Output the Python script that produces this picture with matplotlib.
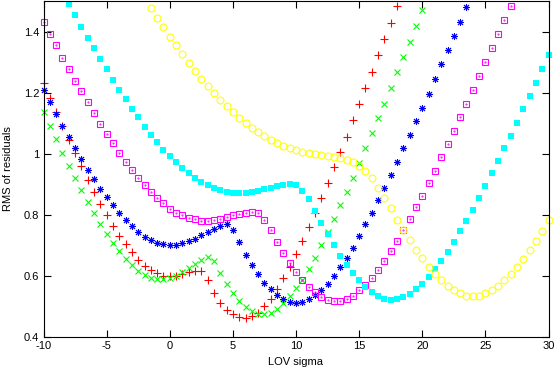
import numpy as np
import matplotlib
matplotlib.use("Agg")
import matplotlib.pyplot as plt

plt.rcParams['font.family'] = ['Liberation Sans', 'DejaVu Sans']

step = 0.5
red_x0, red_x1 = -10, 18
red_y = [1.231,1.184,1.135,1.09,1.045,1.001,0.959,0.914,0.875,0.836,0.800,0.765,0.731,0.703,0.677,0.653,0.633,0.619,0.608,0.601,
         0.599,0.601,0.606,0.613,0.617,0.616,0.587,0.545,0.512,0.490,0.474,0.466,0.462,0.469,0.480,0.501,0.526,0.557,0.592,0.629,
         0.671,0.714,0.760,0.806,0.856,0.904,0.955,1.006,1.056,1.109,1.162,1.215,1.268,1.322,1.375,1.429,1.484]

green_x0, green_x1 = -10, 20
green_y = [1.135,1.092,1.048,1.003,0.961,0.922,0.881,0.841,0.806,0.771,0.738,0.708,0.681,0.654,0.635,0.616,0.602,0.593,0.589,0.589,
           0.593,0.599,0.613,0.625,0.640,0.651,0.661,0.650,0.609,0.575,0.543,0.517,0.498,0.485,0.476,0.474,0.480,0.493,0.512,0.534,
           0.559,0.588,0.623,0.660,0.700,0.744,0.786,0.831,0.876,0.922,0.970,1.018,1.067,1.116,1.164,1.215,1.266,1.317,1.367,1.418,1.470]

blue_x0, blue_x1 = -10, 23.5
blue_y = [1.208,1.168,1.130,1.092,1.054,1.019,0.983,0.948,0.916,0.886,0.858,0.833,0.806,0.782,0.762,0.744,0.727,0.716,0.709,0.703,
          0.700,0.702,0.707,0.714,0.722,0.733,0.744,0.755,0.764,0.770,0.751,0.710,0.670,0.636,0.606,0.578,0.556,0.537,0.523,0.514,
          0.512,0.515,0.523,0.537,0.555,0.575,0.600,0.629,0.660,0.693,0.730,0.769,0.806,0.847,0.887,0.931,0.972,1.018,1.061,1.106,
          1.151,1.197,1.244,1.293,1.339,1.385,1.432,1.480]

magenta_x0, magenta_x1 = -10, 27
magenta_y = [1.432,1.393,1.355,1.315,1.277,1.238,1.204,1.168,1.132,1.097,1.065,1.034,1.003,0.974,0.947,0.921,0.897,0.875,0.855,0.838,
             0.818,0.806,0.799,0.790,0.785,0.780,0.780,0.783,0.787,0.792,0.798,0.804,0.807,0.809,0.805,0.782,0.749,0.711,0.676,0.643,
             0.613,0.588,0.564,0.546,0.531,0.521,0.517,0.519,0.523,0.535,0.553,0.570,0.593,0.619,0.649,0.681,0.714,0.749,0.785,0.825,
             0.863,0.904,0.944,0.988,1.032,1.075,1.119,1.164,1.209,1.255,1.300,1.345,1.393,1.438,1.484]

cyan_x0, cyan_x1 = -8, 30
cyan_y = [1.489,1.454,1.416,1.380,1.345,1.309,1.277,1.242,1.209,1.179,1.148,1.119,1.089,1.062,1.037,1.013,0.992,0.972,0.953,0.936,
          0.920,0.907,0.896,0.887,0.880,0.874,0.871,0.871,0.872,0.874,0.877,0.883,0.888,0.895,0.899,0.901,0.898,0.878,0.852,0.812,
          0.773,0.738,0.700,0.665,0.637,0.610,0.586,0.564,0.548,0.535,0.526,0.521,0.523,0.530,0.540,0.556,0.573,0.595,0.621,0.649,
          0.678,0.711,0.746,0.779,0.817,0.856,0.894,0.936,0.977,1.019,1.059,1.102,1.146,1.190,1.233,1.277,1.322]

yellow_x0, yellow_x1 = -1.5, 30
yellow_y = [1.476,1.445,1.415,1.383,1.355,1.326,1.298,1.271,1.246,1.222,1.198,1.177,1.155,1.135,1.117,1.099,1.084,1.070,1.057,1.045,
            1.035,1.026,1.019,1.012,1.007,1.001,0.999,0.996,0.992,0.990,0.986,0.981,0.973,0.961,0.943,0.920,0.888,0.854,0.821,0.784,
            0.749,0.716,0.686,0.657,0.629,0.606,0.586,0.567,0.553,0.543,0.535,0.534,0.535,0.543,0.553,0.567,0.586,0.605,0.629,0.654,
            0.684,0.714,0.747,0.782]

x_ticks = [-10, -5, 0, 5, 10, 15, 20, 25, 30]
y_ticks = [0.4, 0.6, 0.8, 1.0, 1.2, 1.4]
y_tick_labels = ["0.4", "0.6", "0.8", "1", "1.2", "1.4"]

def xs(x0, x1):
    return np.arange(x0, x1 + step / 2, step)

fig = plt.figure(figsize=(5.54, 3.72), dpi=100)
ax = fig.add_axes([43.5/554, 1 - 337/372, (548.5-43.5)/554, (337-1)/372])

lw = 0.8
ax.plot(xs(red_x0, red_x1), red_y, linestyle='none', marker='+', color='#ff0000', ms=5.5, mew=lw, clip_on=False)
ax.plot(xs(green_x0, green_x1), green_y, linestyle='none', marker='x', color='#00ff00', ms=4.5, mew=lw, clip_on=False)
ax.plot(xs(blue_x0, blue_x1), blue_y, linestyle='none', marker=(8, 2, 0), color='#0000ff', ms=5, mew=0.7, clip_on=False)
ax.plot(xs(magenta_x0, magenta_x1), magenta_y, linestyle='none', marker='s', mfc='none', mec='#ff00ff', ms=5, mew=lw, clip_on=False)
ax.plot(xs(magenta_x0, magenta_x1), magenta_y, linestyle='none', marker='.', color='#ff00ff', ms=1, clip_on=False)
ax.plot(xs(cyan_x0, cyan_x1), cyan_y, linestyle='none', marker='s', color='#00ffff', ms=5, mew=0, clip_on=False)
ax.plot(xs(yellow_x0, yellow_x1), yellow_y, linestyle='none', marker='o', mfc='none', mec='#ffff00', ms=5, mew=lw, clip_on=False)

ax.set_xlim(-10, 30)
ax.set_ylim(0.4, 1.5)
ax.set_xticks(x_ticks)
ax.set_xticklabels([str(t) for t in x_ticks])
ax.set_yticks(y_ticks)
ax.set_yticklabels(y_tick_labels)
ax.tick_params(direction='in', length=5, width=0.8, top=True, right=True, labelsize=8, pad=3)
for s in ax.spines.values():
    s.set_linewidth(0.8)
ax.set_xlabel("LOV sigma", fontsize=8, labelpad=4)
ax.set_ylabel("RMS of residuals", fontsize=8, labelpad=8)

fig.savefig("out.png", dpi=100)
